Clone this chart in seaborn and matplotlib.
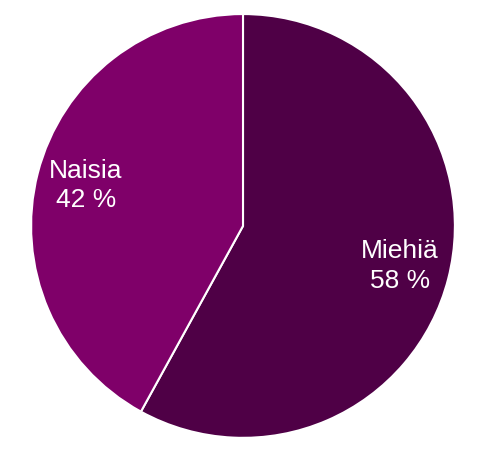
import matplotlib
matplotlib.use("Agg")
import numpy as np
import seaborn as sns
from matplotlib import pyplot as plt

categories = ["Miehiä", "Naisia"]
shares = [58, 42]
colors = ["#4f0046", "#7f0069"]

sns.set_style("white")
plt.rcParams['font.family'] = ['Liberation Sans', 'DejaVu Sans']

fig = plt.figure(figsize=(4.86, 4.51), dpi=100)
ax = fig.add_axes([0.5 - 0.436, 0.499 - 0.47, 0.872, 0.940])

wedges, _ = ax.pie(shares, colors=sns.color_palette(colors), startangle=90,
                   counterclock=False,
                   wedgeprops=dict(edgecolor='white', linewidth=1.5))

# Labels inside each wedge, centred at mid angle
for w, name, val in zip(wedges, categories, shares):
    mid = np.deg2rad((w.theta1 + w.theta2) / 2)
    r = 0.765
    ax.text(r * np.cos(mid), r * np.sin(mid), '%s\n%d %%' % (name, val),
            ha='center', va='center', color='white', fontsize=19,
            linespacing=1.3)

ax.set_xlim(-1, 1)
ax.set_ylim(-1, 1)
ax.set_aspect('equal')
ax.axis('off')

fig.savefig('out.png', dpi=100, facecolor='white')
